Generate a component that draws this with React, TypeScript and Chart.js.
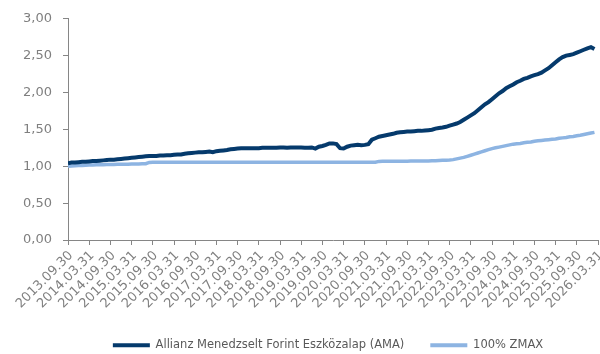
import React, { useEffect, useRef } from "react";
import { Chart, registerables } from "chart.js";

Chart.register(...registerables);

// x-axis tick labels (every 6 months, from 2013.09.30)
const tickLabels = [
  "2013.09.30", "2014.03.31", "2014.09.30", "2015.03.31", "2015.09.30", "2016.03.31",
  "2016.09.30", "2017.03.31", "2017.09.30", "2018.03.31", "2018.09.30", "2019.03.31",
  "2019.09.30", "2020.03.31", "2020.09.30", "2021.03.31", "2021.09.30", "2022.03.31",
  "2022.09.30", "2023.03.31", "2023.09.30", "2024.03.31", "2024.09.30", "2025.03.31",
  "2025.09.30", "2026.03.31",
];

const seriesNames = ["Allianz Menedzselt Forint Eszközalap (AMA)", "100% ZMAX"];

// monthly values, index = months since 2013.09.30
const amaValues = [
  1.04, 1.05, 1.05, 1.055, 1.06, 1.06, 1.065, 1.07, 1.07, 1.075,
  1.08, 1.085, 1.09, 1.09, 1.095, 1.10, 1.105, 1.11, 1.115, 1.12,
  1.125, 1.13, 1.135, 1.14, 1.14, 1.14, 1.145, 1.145, 1.15, 1.15,
  1.155, 1.16, 1.16, 1.17, 1.175, 1.18, 1.185, 1.19, 1.19, 1.195,
  1.20, 1.19, 1.205, 1.21, 1.215, 1.22, 1.23, 1.235, 1.24, 1.245,
  1.245, 1.245, 1.245, 1.245, 1.245, 1.25, 1.25, 1.25, 1.25, 1.25,
  1.255, 1.255, 1.25, 1.255, 1.255, 1.255, 1.255, 1.25, 1.25, 1.255,
  1.24, 1.265, 1.275, 1.29, 1.31, 1.31, 1.30, 1.245, 1.24, 1.265,
  1.28, 1.285, 1.29, 1.285, 1.29, 1.30, 1.36, 1.38, 1.40, 1.41,
  1.42, 1.43, 1.44, 1.455, 1.46, 1.465, 1.47, 1.47, 1.475, 1.48,
  1.48, 1.485, 1.49, 1.495, 1.51, 1.52, 1.525, 1.535, 1.55, 1.565,
  1.58, 1.60, 1.63, 1.66, 1.69, 1.72, 1.76, 1.80, 1.84, 1.87,
  1.91, 1.95, 1.99, 2.02, 2.06, 2.085, 2.11, 2.14, 2.16, 2.185,
  2.20, 2.22, 2.235, 2.25, 2.27, 2.30, 2.33, 2.37, 2.41, 2.45,
  2.48, 2.50, 2.51, 2.52, 2.54, 2.56, 2.58, 2.60, 2.615, 2.59,
];

const zmaxValues = [
  1.00, 1.005, 1.008, 1.01, 1.012, 1.014, 1.016, 1.018, 1.02, 1.021,
  1.022, 1.023, 1.024, 1.025, 1.026, 1.027, 1.028, 1.029, 1.03, 1.031,
  1.032, 1.033, 1.034, 1.052, 1.053, 1.053, 1.053, 1.053, 1.053, 1.053,
  1.053, 1.053, 1.053, 1.053, 1.053, 1.053, 1.053, 1.053, 1.053, 1.053,
  1.053, 1.053, 1.053, 1.053, 1.053, 1.053, 1.053, 1.053, 1.053, 1.053,
  1.054, 1.054, 1.054, 1.054, 1.054, 1.054, 1.054, 1.054, 1.054, 1.054,
  1.054, 1.054, 1.054, 1.054, 1.054, 1.054, 1.054, 1.054, 1.054, 1.054,
  1.055, 1.055, 1.055, 1.055, 1.055, 1.055, 1.055, 1.055, 1.055, 1.055,
  1.055, 1.055, 1.055, 1.055, 1.055, 1.055, 1.055, 1.055, 1.066, 1.067,
  1.067, 1.067, 1.068, 1.068, 1.068, 1.069, 1.069, 1.07, 1.07, 1.07,
  1.07, 1.07, 1.072, 1.074, 1.076, 1.078, 1.08, 1.082, 1.085, 1.09,
  1.10, 1.11, 1.12, 1.135, 1.15, 1.165, 1.18, 1.195, 1.21, 1.225,
  1.24, 1.25, 1.26, 1.27, 1.28, 1.29, 1.30, 1.305, 1.31, 1.32,
  1.325, 1.33, 1.34, 1.345, 1.35, 1.355, 1.36, 1.365, 1.37, 1.38,
  1.385, 1.39, 1.40, 1.405, 1.415, 1.42, 1.43, 1.44, 1.45, 1.46,
];

const COLORS = ["#053a6c", "#8db4e2"];
const AXIS = "#868686";
const TICK_TEXT = "#7f7f7f";
const FONT = "'DejaVu Sans', sans-serif";

const legendShift = {
  id: "legendShift",
  afterLayout(chart: any) {
    if (chart.legend) {
      chart.legend.left += 58;
    }
  },
};

export default function App() {
  const ref = useRef<HTMLCanvasElement | null>(null);

  useEffect(() => {
    if (!ref.current) return;
    const chart = new Chart(ref.current, {
      type: "line",
      data: {
        datasets: [amaValues, zmaxValues].map((vals, i) => ({
          label: seriesNames[i],
          data: vals.map((v, m) => ({ x: m, y: v })),
          borderColor: COLORS[i],
          backgroundColor: COLORS[i],
          borderWidth: i === 0 ? 4 : 3.5,
          pointRadius: 0,
          tension: 0,
          fill: false,
        })),
      },
      options: {
        animation: false,
        responsive: false,
        events: [],
        layout: { padding: { top: 17, left: 0, right: 2, bottom: 0 } },
        plugins: {
          tooltip: { enabled: false },
          legend: {
            position: "bottom",
            labels: {
              boxWidth: 37,
              boxHeight: 4,
              padding: 26,
              color: "#595959",
              font: { family: FONT, size: 11.5 },
              generateLabels: (c: any) =>
                c.data.datasets.map((ds: any, i: number) => ({
                  text: ds.label,
                  fillStyle: COLORS[i],
                  strokeStyle: COLORS[i],
                  lineWidth: 0,
                  hidden: false,
                  datasetIndex: i,
                  fontColor: "#595959",
                })),
            },
          },
        },
        scales: {
          x: {
            type: "linear",
            min: 0,
            max: 150,
            grid: {
              display: true,
              drawOnChartArea: false,
              drawTicks: true,
              tickLength: 5,
              color: AXIS,
            },
            border: { display: true, color: AXIS, width: 1 },
            ticks: {
              stepSize: 6,
              autoSkip: false,
              maxRotation: 45,
              minRotation: 45,
              padding: 3,
              labelOffset: 3,
              color: TICK_TEXT,
              font: { family: FONT, size: 13 },
              callback: (v: any) => tickLabels[Math.round(Number(v) / 6)] ?? "",
            },
            afterFit: (s: any) => {
              s.paddingRight = 0;
              s.paddingLeft = 0;
              s.height = 73.5;
            },
          },
          y: {
            min: 0,
            max: 3,
            grid: {
              display: true,
              drawOnChartArea: false,
              drawTicks: true,
              tickLength: 5,
              color: AXIS,
            },
            border: { display: true, color: AXIS, width: 1 },
            ticks: {
              stepSize: 0.5,
              padding: 11,
              color: TICK_TEXT,
              font: { family: FONT, size: 13 },
              callback: (v: any) => Number(v).toFixed(2).replace(".", ","),
            },
            afterFit: (s: any) => {
              s.width = 68;
            },
          },
        },
      },
      plugins: [legendShift],
    });
    return () => chart.destroy();
  }, []);

  return (
    <div style={{ position: "fixed", left: 0, top: 0, width: 600, height: 354, overflow: "hidden", background: "#fff" }}>
      <canvas ref={ref} width={600} height={361} style={{ display: "block" }} />
    </div>
  );
}
